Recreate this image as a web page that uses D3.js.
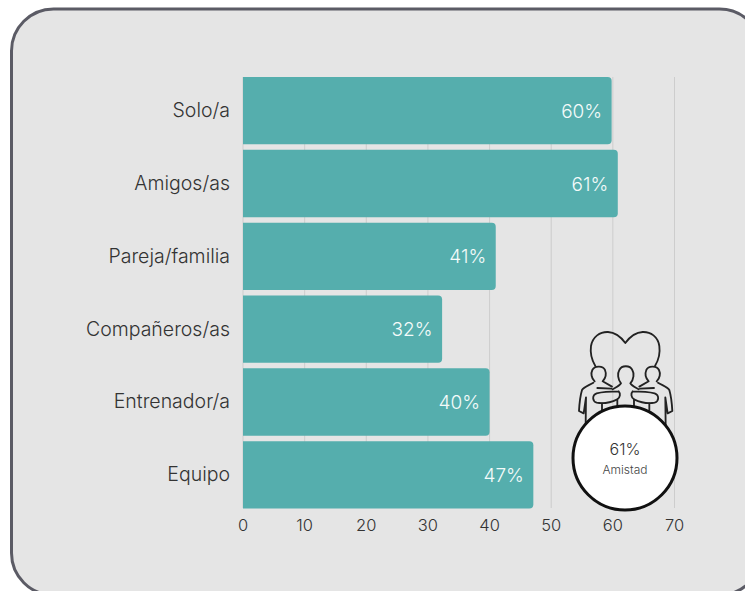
<!DOCTYPE html>
<html>
<head>
<meta charset="utf-8">
<script src="https://cdnjs.cloudflare.com/ajax/libs/d3/7.8.5/d3.min.js"></script>
<style>
  html, body { margin: 0; padding: 0; background: #fff; }
  text { font-family: "Inter", sans-serif; font-weight: 300; }
</style>
</head>
<body>
<div id="vis"></div>
<script>
var categories = ["Solo/a", "Amigos/as", "Pareja/familia", "Compañeros/as", "Entrenador/a", "Equipo"];
var values = [59.8, 60.8, 41, 32.3, 40, 47.1];
var valueLabels = ["60%", "61%", "41%", "32%", "40%", "47%"];
var xTicks = [0, 10, 20, 30, 40, 50, 60, 70];

var w = 745, h = 591;
var barColor = "#55aead";

var svg = d3.select("#vis").append("svg")
    .attr("width", w)
    .attr("height", h)
    .style("display", "block");

svg.append("rect")
    .attr("x", 11.5)
    .attr("y", 9)
    .attr("width", 750)
    .attr("height", 586)
    .attr("rx", 42)
    .attr("fill", "#e5e5e5")
    .attr("stroke", "#5b5b65")
    .attr("stroke-width", 3);

var x = d3.scaleLinear().domain([0, 70]).range([243, 674.5]);
var y = d3.scaleBand().domain(categories).range([77, 508.5]).paddingInner(0.075).paddingOuter(0);

// grid lines
svg.append("g").selectAll("line")
    .data(xTicks)
    .enter().append("line")
    .attr("x1", function(d) { return x(d); })
    .attr("x2", function(d) { return x(d); })
    .attr("y1", 77)
    .attr("y2", 508)
    .attr("stroke", "#cdcdcd")
    .attr("stroke-width", 1);

// bars, only the right corners are rounded
svg.append("g").selectAll("path")
    .data(values)
    .enter().append("path")
    .attr("fill", barColor)
    .attr("d", function(d, i) {
      var y0 = y(categories[i]), y1 = y0 + y.bandwidth(), x0 = x(0), x1 = x(d), r = 4;
      return "M" + x0 + "," + y0 + "H" + (x1 - r) + "Q" + x1 + "," + y0 + " " + x1 + "," + (y0 + r) +
        "V" + (y1 - r) + "Q" + x1 + "," + y1 + " " + (x1 - r) + "," + y1 + "H" + x0 + "Z";
    });

// value labels
svg.append("g").selectAll("text")
    .data(values)
    .enter().append("text")
    .attr("x", function(d) { return x(d) - 9.5; })
    .attr("y", function(d, i) { return y(categories[i]) + y.bandwidth() / 2 + 7; })
    .attr("text-anchor", "end")
    .attr("fill", "#f4fbfa")
    .attr("font-size", 19)
    .text(function(d, i) { return valueLabels[i]; });

// category labels
svg.append("g").selectAll("text")
    .data(categories)
    .enter().append("text")
    .attr("x", 230)
    .attr("y", function(d) { return y(d) + y.bandwidth() / 2 + 6.5; })
    .attr("text-anchor", "end")
    .attr("fill", "#333")
    .attr("font-size", 19.5)
    .text(function(d) { return d; });

// x axis labels
svg.append("g").selectAll("text")
    .data(xTicks)
    .enter().append("text")
    .attr("x", function(d) { return x(d); })
    .attr("y", 531)
    .attr("text-anchor", "middle")
    .attr("fill", "#333")
    .attr("font-size", 16.5)
    .text(function(d) { return d; });

// friendship icon, drawn in 3x units
var icon = svg.append("g")
    .attr("transform", "translate(540,310) scale(0.3333)")
    .attr("fill", "none")
    .attr("stroke", "#222")
    .attr("stroke-width", 5.5)
    .attr("stroke-linecap", "round")
    .attr("stroke-linejoin", "round");

var iconPaths = [
  "M166,168 C155,150 150,130 153,108 C158,80 180,65 204,66 C226,67 245,84 256,99 C267,84 286,67 308,66 C332,65 354,80 358,108 C361,130 356,150 345,168",
  // left figure
  "M164,214 C154,205 152,190 157,180 C163,168 188,165 195,180 C200,192 196,205 188,214 L216,230",
  "M160,218 C148,226 132,230 126,240 C120,260 118,285 117,303 L131,310 L138,262 L137,345",
  "M172,234 L214,236",
  // right figure
  "M350,214 C360,205 362,190 357,180 C351,168 326,165 319,180 C314,192 318,205 326,214 L298,230",
  "M354,218 C366,226 382,230 388,240 C394,260 396,285 397,303 L383,310 L376,262 L377,345",
  "M342,234 L300,236",
  // middle figure
  "M243,220 C233,208 232,190 238,180 C245,165 270,165 277,180 C283,190 282,208 271,220 C276,228 286,232 296,238 M243,220 C238,228 228,232 218,238",
  // folded arms
  "M236,244 C215,244 185,246 170,250 C155,256 157,274 170,278 C190,282 215,276 232,268 C241,262 242,250 236,244",
  "M278,244 C299,244 329,246 344,250 C359,256 357,274 344,278 C324,282 299,276 282,268 C273,262 272,250 278,244",
  "M186,280 L186,300 M328,280 L328,300 M232,268 L232,292 M282,268 L282,292"
];

icon.selectAll("path")
    .data(iconPaths)
    .enter().append("path")
    .attr("d", function(d) { return d; });

// badge
svg.append("circle")
    .attr("cx", 625)
    .attr("cy", 458)
    .attr("r", 52)
    .attr("fill", "#ffffff")
    .attr("stroke", "#111")
    .attr("stroke-width", 3);

svg.append("text")
    .attr("x", 625)
    .attr("y", 455)
    .attr("text-anchor", "middle")
    .attr("fill", "#333")
    .attr("font-size", 16)
    .text("61%");

svg.append("text")
    .attr("x", 625)
    .attr("y", 474)
    .attr("text-anchor", "middle")
    .attr("fill", "#444")
    .attr("font-size", 12)
    .text("Amistad");
</script>
</body>
</html>
